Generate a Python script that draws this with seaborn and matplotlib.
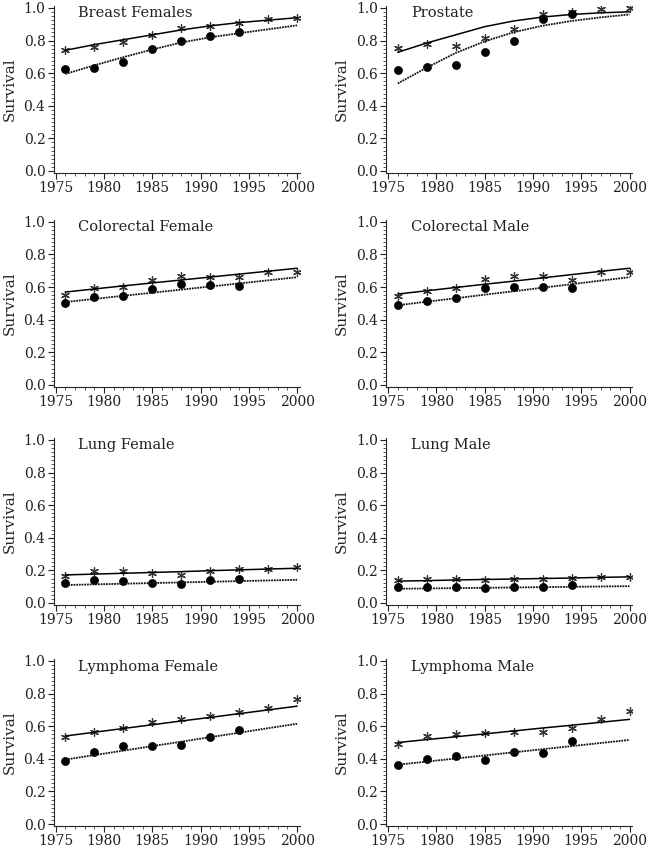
import numpy as np
import pandas as pd
import matplotlib
matplotlib.use("Agg")
import matplotlib.pyplot as plt
import seaborn as sns
from matplotlib.ticker import MultipleLocator

# years of the two kinds of observation
years_all = [1976, 1979, 1982, 1985, 1988, 1991, 1994, 1997, 2000]
years_obs = [1976, 1979, 1982, 1985, 1988, 1991, 1994]

titles = ["Breast Females", "Prostate", "Colorectal Female", "Colorectal Male",
          "Lung Female", "Lung Male", "Lymphoma Female", "Lymphoma Male"]

# asterisks (all years)
breast_f_star = [0.744, 0.76, 0.789, 0.835, 0.875, 0.889, 0.905, 0.932, 0.94]
prostate_star = [0.755, 0.779, 0.769, 0.815, 0.871, 0.96, 0.976, 0.996, 1.0]
colo_f_star = [0.553, 0.593, 0.598, 0.644, 0.669, 0.66, 0.659, 0.689, 0.695]
colo_m_star = [0.543, 0.577, 0.593, 0.65, 0.665, 0.669, 0.64, 0.689, 0.695]
lung_f_star = [0.168, 0.193, 0.197, 0.185, 0.174, 0.193, 0.209, 0.207, 0.219]
lung_m_star = [0.138, 0.146, 0.148, 0.142, 0.144, 0.15, 0.154, 0.16, 0.162]
lymph_f_star = [0.536, 0.567, 0.591, 0.623, 0.642, 0.66, 0.688, 0.709, 0.769]
lymph_m_star = [0.49, 0.54, 0.551, 0.561, 0.563, 0.565, 0.587, 0.642, 0.692]

# dots (observed years)
breast_f_dot = [0.624, 0.634, 0.67, 0.75, 0.80, 0.829, 0.855]
prostate_dot = [0.618, 0.64, 0.648, 0.728, 0.80, 0.932, 0.964]
colo_f_dot = [0.502, 0.541, 0.545, 0.589, 0.618, 0.612, 0.606]
colo_m_dot = [0.492, 0.514, 0.535, 0.596, 0.60, 0.60, 0.596]
lung_f_dot = [0.122, 0.14, 0.134, 0.124, 0.114, 0.138, 0.148]
lung_m_dot = [0.097, 0.097, 0.097, 0.093, 0.095, 0.097, 0.11]
lymph_f_dot = [0.385, 0.441, 0.48, 0.476, 0.482, 0.532, 0.577]
lymph_m_dot = [0.362, 0.397, 0.415, 0.395, 0.443, 0.437, 0.51]

# fitted curves read at each of years_all (solid = upper, dotted = lower)
breast_f_solid = [0.74, 0.775, 0.805, 0.835, 0.865, 0.89, 0.91, 0.925, 0.94]
breast_f_dotted = [0.595, 0.648, 0.698, 0.745, 0.788, 0.82, 0.845, 0.869, 0.893]
prostate_solid = [0.728, 0.785, 0.835, 0.885, 0.92, 0.944, 0.96, 0.97, 0.976]
prostate_dotted = [0.537, 0.634, 0.724, 0.795, 0.851, 0.891, 0.92, 0.942, 0.96]
colo_f_solid = [0.569, 0.588, 0.607, 0.625, 0.643, 0.661, 0.679, 0.697, 0.715]
colo_f_dotted = [0.508, 0.527, 0.546, 0.565, 0.584, 0.603, 0.622, 0.641, 0.66]
colo_m_solid = [0.557, 0.577, 0.597, 0.617, 0.636, 0.656, 0.676, 0.696, 0.715]
colo_m_dotted = [0.488, 0.51, 0.531, 0.553, 0.574, 0.596, 0.617, 0.639, 0.66]
lung_f_solid = [0.172, 0.177, 0.182, 0.187, 0.192, 0.198, 0.203, 0.208, 0.213]
lung_f_dotted = [0.11, 0.114, 0.118, 0.122, 0.126, 0.13, 0.134, 0.138, 0.142]
lung_m_solid = [0.134, 0.137, 0.141, 0.144, 0.147, 0.15, 0.153, 0.157, 0.16]
lung_m_dotted = [0.087, 0.089, 0.091, 0.093, 0.095, 0.097, 0.099, 0.101, 0.103]
lymph_f_solid = [0.54, 0.563, 0.586, 0.609, 0.632, 0.654, 0.677, 0.7, 0.723]
lymph_f_dotted = [0.395, 0.423, 0.45, 0.478, 0.505, 0.533, 0.56, 0.588, 0.615]
lymph_m_solid = [0.50, 0.518, 0.535, 0.553, 0.571, 0.589, 0.606, 0.624, 0.642]
lymph_m_dotted = [0.364, 0.383, 0.402, 0.421, 0.44, 0.459, 0.478, 0.497, 0.516]

stars = [breast_f_star, prostate_star, colo_f_star, colo_m_star,
         lung_f_star, lung_m_star, lymph_f_star, lymph_m_star]
dots = [breast_f_dot, prostate_dot, colo_f_dot, colo_m_dot,
        lung_f_dot, lung_m_dot, lymph_f_dot, lymph_m_dot]
solids = [breast_f_solid, prostate_solid, colo_f_solid, colo_m_solid,
          lung_f_solid, lung_m_solid, lymph_f_solid, lymph_m_solid]
dotteds = [breast_f_dotted, prostate_dotted, colo_f_dotted, colo_m_dotted,
           lung_f_dotted, lung_m_dotted, lymph_f_dotted, lymph_m_dotted]

sns.set_style("ticks")
plt.rcParams["font.family"] = ["DejaVu Serif"]

fig = plt.figure(figsize=(6.48, 8.52), dpi=100)

lefts = [0.083, 0.596]
bottoms = [0.797, 0.546, 0.290, 0.0305]
w, h = 0.38, 0.196

for i, title in enumerate(titles):
    row, col = divmod(i, 2)
    ax = fig.add_axes([lefts[col], bottoms[row], w, h])

    sns.lineplot(x=years_all, y=solids[i], ax=ax, color="black", linewidth=1.1)
    sns.lineplot(x=years_all, y=dotteds[i], ax=ax, color="#111111",
                 linewidth=1.3, linestyle=(0, (1, 0.5)))
    sns.scatterplot(x=years_all, y=stars[i], ax=ax, marker=(6, 2, 0), s=32,
                    color="#333333", linewidth=0.9)
    sns.scatterplot(x=years_obs, y=dots[i], ax=ax, marker="o", s=34,
                    color="black", edgecolor="black")

    ax.set_xlim(1974.8, 2000.3)
    ax.set_ylim(-0.012, 1.012)
    ax.set_xticks([1975, 1980, 1985, 1990, 1995, 2000])
    ax.set_yticks([0.0, 0.2, 0.4, 0.6, 0.8, 1.0])
    ax.set_yticklabels(["0.0", "0.2", "0.4", "0.6", "0.8", "1.0"])
    ax.xaxis.set_minor_locator(MultipleLocator(1))
    ax.yaxis.set_minor_locator(MultipleLocator(0.025))
    ax.tick_params(which="major", length=4, width=0.8, labelsize=10, pad=2,
                   colors="#222222")
    ax.tick_params(which="minor", length=2, width=0.6, colors="#444444")
    sns.despine(ax=ax)
    ax.set_ylabel("Survival", fontsize=11)
    ax.yaxis.set_label_coords(-0.152, 0.5)
    ax.set_xlabel("")
    ax.text(0.1, 0.955, title, transform=ax.transAxes, fontsize=10.5,
            va="center", ha="left", color="#222222")

fig.savefig("out.png", dpi=100)
